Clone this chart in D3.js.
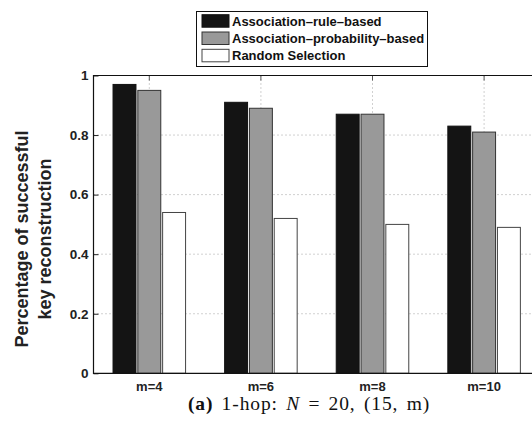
<!DOCTYPE html>
<html>
<head>
<meta charset="utf-8">
<script src="https://cdn.jsdelivr.net/npm/d3@7"></script>
<style>
  body { margin: 0; background: #fff; }
  svg { display: block; }
  .tick text { font-family: "Liberation Sans", Arial, sans-serif; font-weight: bold; }
</style>
</head>
<body>
<svg id="chart" width="532" height="423"></svg>
<script>
// data
let categories = ["m=4", "m=6", "m=8", "m=10"]
let seriesNames = ["Association\u2013rule\u2013based", "Association\u2013probability\u2013based", "Random Selection"]
let ruleBased = [0.97, 0.91, 0.87, 0.83]
let probBased = [0.95, 0.89, 0.87, 0.81]
let randomSel = [0.54, 0.52, 0.50, 0.49]
let yTicks = [0, 0.2, 0.4, 0.6, 0.8, 1]

let seriesValues = [ruleBased, probBased, randomSel]
let fills = ["#141414", "#999999", "#ffffff"]
let strokes = ["#111", "#333", "#444"]

let svg = d3.select("#chart")

let plotLeft = 93.5, plotTop = 75.5, plotBottom = 373.3
let step = 111.6
let plotRight = plotLeft + step * categories.length   // runs past the picture edge

let x0 = d3.scaleBand().domain(categories).range([plotLeft, plotRight]).padding(0)
// matlab-style grouping: 3 bars in 2/3 of the slot
let pInner = 0.075
let pOuter = (4.5 - 3 + pInner) / 2
let x1 = d3.scaleBand().domain(d3.range(3)).range([0, x0.bandwidth()])
    .paddingInner(pInner).paddingOuter(pOuter)

let y = d3.scaleLinear().domain([0, 1]).range([plotBottom, plotTop])

// gridlines (behind bars)
let grid = svg.append("g").attr("stroke", "#8a8a8a").attr("stroke-width", 0.8)
    .attr("stroke-dasharray", "1,3")
grid.selectAll("line.h")
    .data(yTicks.filter(d => d > 0 && d < 1))
    .enter().append("line")
    .attr("x1", plotLeft).attr("x2", plotRight)
    .attr("y1", d => y(d)).attr("y2", d => y(d))
grid.selectAll("line.v")
    .data(categories)
    .enter().append("line")
    .attr("x1", d => x0(d) + x0.bandwidth() / 2).attr("x2", d => x0(d) + x0.bandwidth() / 2)
    .attr("y1", plotTop).attr("y2", plotBottom)

// bars
let groups = svg.append("g").selectAll("g")
    .data(categories)
    .enter().append("g")
    .attr("transform", d => "translate(" + x0(d) + ",0)")

groups.selectAll("rect")
    .data((c, ci) => seriesValues.map((vals, si) => ({ s: si, v: vals[ci] })))
    .enter().append("rect")
    .attr("x", d => x1(d.s))
    .attr("width", x1.bandwidth())
    .attr("y", d => y(d.v))
    .attr("height", d => y(0) - y(d.v))
    .attr("fill", d => fills[d.s])
    .attr("stroke", d => strokes[d.s])
    .attr("stroke-width", 1)

// y axis with inward ticks
let yAxis = svg.append("g")
    .attr("transform", "translate(" + plotLeft + ",0)")
    .call(d3.axisLeft(y).tickValues(yTicks).tickFormat(d => d).tickSizeInner(-5).tickSizeOuter(0).tickPadding(5))
yAxis.select(".domain").remove()
yAxis.selectAll(".tick line").attr("stroke", "#222")
yAxis.selectAll(".tick text").attr("font-size", 13.5).attr("fill", "#222")

// x axis labels
let xAxis = svg.append("g")
    .attr("transform", "translate(0," + plotBottom + ")")
    .call(d3.axisBottom(x0).tickSize(0).tickPadding(8))
xAxis.select(".domain").remove()
xAxis.selectAll(".tick text").attr("font-size", 13).attr("fill", "#222")

// top ticks at category centres
svg.append("g").selectAll("line")
    .data(categories)
    .enter().append("line")
    .attr("x1", d => x0(d) + x0.bandwidth() / 2).attr("x2", d => x0(d) + x0.bandwidth() / 2)
    .attr("y1", plotTop).attr("y2", plotTop + 5)
    .attr("stroke", "#555")

// axes box
svg.append("path")
    .attr("d", "M" + plotRight + "," + plotTop + "H" + plotLeft + "V" + plotBottom + "H" + plotRight)
    .attr("fill", "none").attr("stroke", "#111").attr("stroke-width", 1.2)

// y label
let ylab = svg.append("text")
    .attr("transform", "translate(0,239) rotate(-90)")
    .attr("text-anchor", "middle")
    .attr("font-family", "Liberation Sans, Arial, sans-serif")
    .attr("font-weight", "bold")
    .attr("font-size", 18)
    .attr("fill", "#222")
ylab.append("tspan").attr("x", 0).attr("y", 28).text("Percentage of successful")
ylab.append("tspan").attr("x", 0).attr("y", 51).text("key reconstruction")

// legend
let legend = svg.append("g")
legend.append("rect")
    .attr("x", 196.5).attr("y", 11.5).attr("width", 231).attr("height", 55)
    .attr("fill", "#fff").attr("stroke", "#111").attr("stroke-width", 1)
let rowY = [14.7, 32, 49.3]
seriesNames.forEach(function (name, i) {
    legend.append("rect")
        .attr("x", 202).attr("y", rowY[i]).attr("width", 27).attr("height", 12.5)
        .attr("fill", fills[i]).attr("stroke", strokes[i])
    legend.append("text")
        .attr("x", 232).attr("y", rowY[i] + 11)
        .attr("font-family", "Liberation Sans, Arial, sans-serif")
        .attr("font-weight", "bold")
        .attr("font-size", 13)
        .attr("fill", "#111")
        .text(name)
})

// caption
let cap = svg.append("text")
    .attr("x", 309).attr("y", 410)
    .attr("text-anchor", "middle")
    .attr("font-family", "Liberation Serif, DejaVu Serif, serif")
    .attr("font-size", 19.5)
    .attr("letter-spacing", 0.9)
    .attr("word-spacing", 2.5)
    .attr("fill", "#111")
cap.append("tspan").attr("font-weight", "bold").text("(a)")
cap.append("tspan").text(" 1-hop: ")
cap.append("tspan").attr("font-style", "italic").text("N")
cap.append("tspan").text(" = 20, (15, m)")
</script>
</body>
</html>
